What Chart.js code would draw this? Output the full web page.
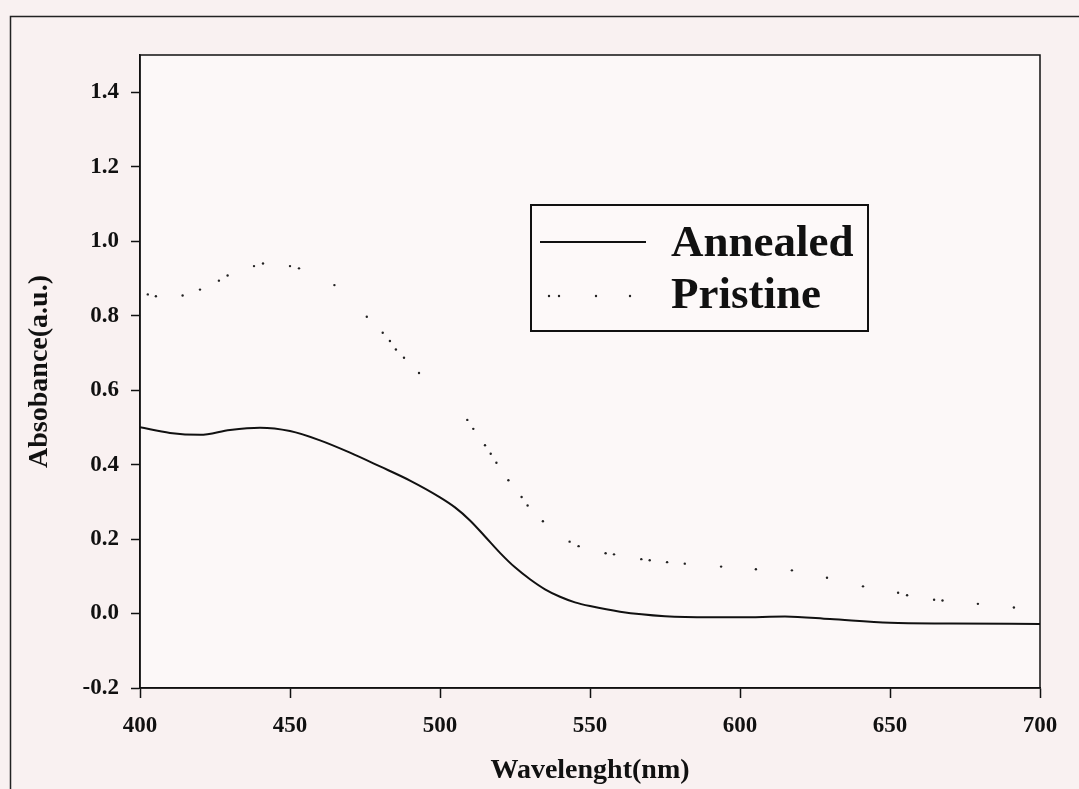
<!DOCTYPE html>
<html>
<head>
<meta charset="utf-8">
<script src="https://cdn.jsdelivr.net/npm/chart.js@4.4.0/dist/chart.umd.min.js"></script>
<style>
  html, body { margin: 0; padding: 0; background: #f9f1f1; }
  #wrap { width: 1079px; height: 789px; }
</style>
</head>
<body>
<div id="wrap"><canvas id="absChart"></canvas></div>
<script>
// annealed film (solid curve)
var annealedWl  = [400, 410, 420, 430, 440, 450, 460, 470, 480, 490, 500, 505, 510, 515, 520, 525, 530, 535, 540, 545, 550, 560, 575, 590, 600, 615, 630, 650, 670, 700];
var annealedAbs = [0.50, 0.485, 0.48, 0.493, 0.499, 0.49, 0.465, 0.432, 0.395, 0.357, 0.312, 0.285, 0.25, 0.207, 0.163, 0.124, 0.092, 0.065, 0.045, 0.03, 0.02, 0.005, -0.007, -0.01, -0.01, -0.008, -0.015, -0.025, -0.027, -0.028];

// pristine film (dotted points)
var pristineWl  = [402.6, 405.3, 414.2, 420, 426.3, 429.2, 438, 441, 450, 453, 464.8, 475.6, 480.9, 483.3, 485.3, 488, 493, 509.1, 511.1, 515, 516.9, 518.8, 522.8, 527.2, 529.2, 534.3, 543.2, 546.2, 555.2, 558, 567.1, 569.9, 575.7, 581.6, 593.7, 605.3, 617.3, 629, 641, 652.7, 655.7, 664.7, 667.5, 679.3, 691.3];
var pristineAbs = [0.857, 0.852, 0.854, 0.870, 0.894, 0.908, 0.933, 0.940, 0.933, 0.927, 0.882, 0.797, 0.754, 0.732, 0.709, 0.687, 0.646, 0.520, 0.496, 0.452, 0.429, 0.405, 0.358, 0.313, 0.290, 0.248, 0.193, 0.181, 0.162, 0.159, 0.146, 0.143, 0.138, 0.134, 0.126, 0.119, 0.116, 0.096, 0.073, 0.056, 0.049, 0.037, 0.035, 0.026, 0.016];

var seriesNames = ["Annealed", "Pristine"];
var xTitle = "Wavelenght(nm)";
var yTitle = "Absobance(a.u.)";

var serif = "'Liberation Serif', 'Times New Roman', serif";

function toPoints(xs, ys) {
  var pts = [];
  for (var i = 0; i < xs.length; i++) pts.push({x: xs[i], y: ys[i]});
  return pts;
}

// page frame, plot background and box around the plot area
var framePlugin = {
  id: "frame",
  beforeDraw: function(chart) {
    var c = chart.ctx, a = chart.chartArea;
    c.save();
    c.fillStyle = "#f9f1f1";
    c.fillRect(0, 0, chart.width, chart.height);
    c.fillStyle = "#fcf8f8";
    c.fillRect(a.left, a.top, a.right - a.left, a.bottom - a.top);
    c.strokeStyle = "#222";
    c.lineWidth = 1.5;
    c.beginPath();
    c.moveTo(10.5, chart.height);
    c.lineTo(10.5, 16.5);
    c.lineTo(chart.width, 16.5);
    c.stroke();
    c.restore();
  },
  afterDraw: function(chart) {
    var c = chart.ctx, a = chart.chartArea;
    c.save();
    c.strokeStyle = "#111";
    c.lineWidth = 1.5;
    c.strokeRect(a.left, a.top, a.right - a.left, a.bottom - a.top);
    c.restore();
  }
};

// boxed legend inside the plot
var boxLegend = {
  id: "boxLegend",
  afterDraw: function(chart) {
    var c = chart.ctx;
    var ds = chart.data.datasets;
    c.save();
    c.fillStyle = "#fdf9f9";
    c.fillRect(531, 205, 337, 126);
    c.strokeStyle = "#111";
    c.lineWidth = 2;
    c.strokeRect(531, 205, 337, 126);

    // solid sample
    c.strokeStyle = ds[0].borderColor;
    c.lineWidth = 2;
    c.beginPath();
    c.moveTo(540, 242);
    c.lineTo(646, 242);
    c.stroke();

    // dotted sample
    c.fillStyle = ds[1].pointBackgroundColor;
    [549, 559, 596, 630].forEach(function(px) {
      c.beginPath();
      c.arc(px, 296, 1.2, 0, Math.PI * 2);
      c.fill();
    });

    c.fillStyle = "#111";
    c.font = "bold 45px " + serif;
    c.textBaseline = "middle";
    c.textAlign = "left";
    c.fillText(ds[0].label, 671, 244);
    c.fillText(ds[1].label, 671, 296);
    c.restore();
  }
};

var ctx = document.getElementById("absChart");

var chart = new Chart(ctx, {
  type: "scatter",
  data: {
    datasets: [
      {
        label: seriesNames[0],
        data: toPoints(annealedWl, annealedAbs),
        showLine: true,
        borderColor: "#111",
        borderWidth: 2,
        tension: 0.4,
        cubicInterpolationMode: "monotone",
        pointRadius: 0
      },
      {
        label: seriesNames[1],
        data: toPoints(pristineWl, pristineAbs),
        showLine: false,
        pointRadius: 1.2,
        pointBorderWidth: 0,
        pointBackgroundColor: "#222",
        pointBorderColor: "#222"
      }
    ]
  },
  options: {
    responsive: true,
    maintainAspectRatio: false,
    animation: false,
    layout: { padding: { top: 55, right: 39, left: 0, bottom: 0 } },
    plugins: {
      legend: { display: false },
      tooltip: { enabled: false }
    },
    scales: {
      x: {
        type: "linear",
        min: 400,
        max: 700,
        afterFit: function(scale) { scale.height = 101; },
        ticks: {
          stepSize: 50,
          color: "#111",
          padding: 14,
          font: { family: serif, size: 23, weight: "bold" }
        },
        grid: { drawOnChartArea: false, drawTicks: true, tickLength: 10, color: "#111", tickWidth: 1.5 },
        border: { display: true, color: "#111", width: 1.5 },
        title: {
          display: true,
          text: xTitle,
          color: "#111",
          padding: { top: 0, bottom: 1 },
          font: { family: serif, size: 28, weight: "bold" }
        }
      },
      y: {
        min: -0.2,
        max: 1.5,
        afterFit: function(scale) { scale.width = 140; },
        afterBuildTicks: function(scale) {
          scale.ticks = scale.ticks.filter(function(t) { return t.value < 1.45; });
        },
        ticks: {
          stepSize: 0.2,
          color: "#111",
          padding: 12,
          callback: function(v) { return Number(v).toFixed(1); },
          font: { family: serif, size: 23, weight: "bold" }
        },
        grid: { drawOnChartArea: false, drawTicks: true, tickLength: 9, color: "#111", tickWidth: 1.5 },
        border: { display: true, color: "#111", width: 1.5 },
        title: {
          display: true,
          text: yTitle,
          color: "#111",
          padding: { top: 23, bottom: 0 },
          font: { family: serif, size: 28, weight: "bold" }
        }
      }
    }
  },
  plugins: [framePlugin, boxLegend]
});
</script>
</body>
</html>
